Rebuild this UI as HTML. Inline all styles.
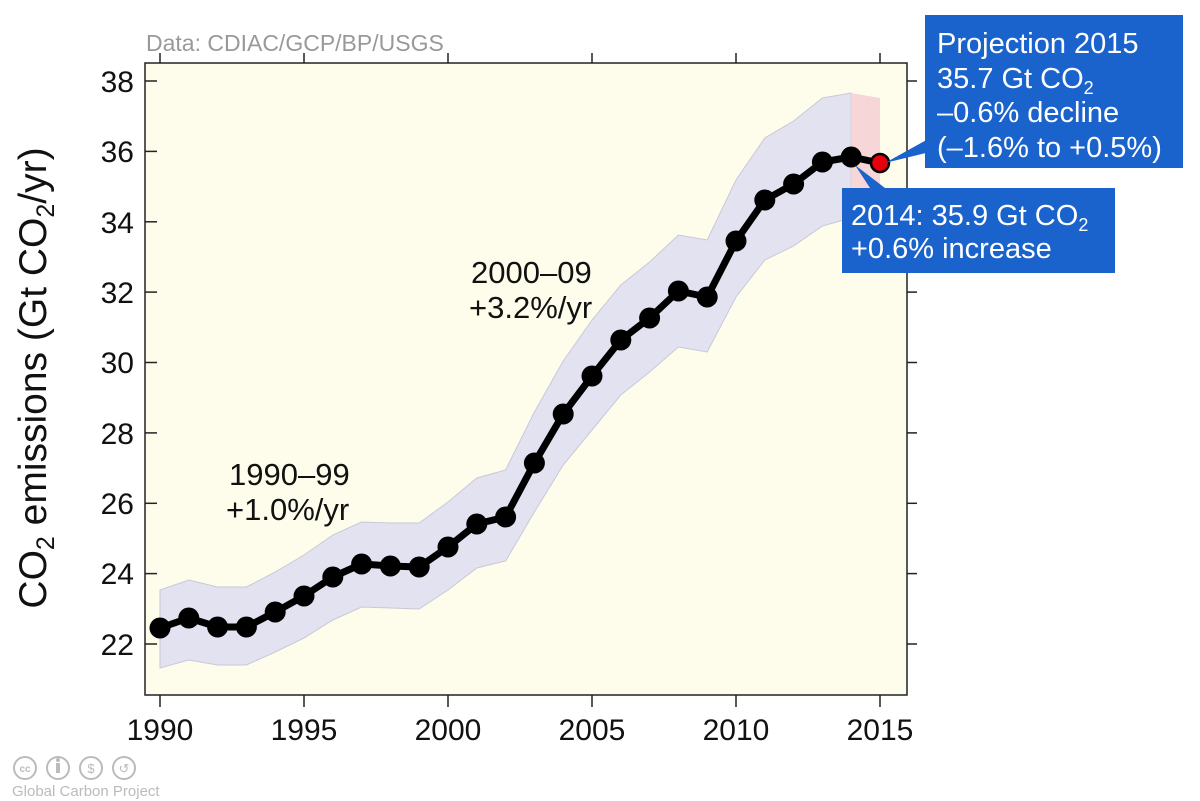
<!DOCTYPE html>
<html><head><meta charset="utf-8"><style>
html,body{margin:0;padding:0;background:#fff;}
svg{display:block;font-family:"Liberation Sans",Arial,sans-serif;}
</style></head><body>
<svg width="1200" height="801" viewBox="0 0 1200 801">
<rect x="145" y="63" width="762" height="632" fill="#fefdec"/>
<polygon fill="#e2e2f0" stroke="#c8c8d8" stroke-width="1" points="160,590 188.8,580 217.6,587 246.4,587 275.2,572 304,555 332.8,535 361.6,522 390.4,523 419.2,523 448,502 476.8,478 505.6,470 534.4,412 563.2,361 592,320 620.8,285 649.6,262 678.4,235 707.2,240 736,180 764.8,138 793.6,121 822.4,98 851.2,93 851.2,218 822.4,226 793.6,246 764.8,260 736,297 707.2,352 678.4,347 649.6,372 620.8,395 592,430 563.2,465 534.4,512 505.6,561 476.8,568 448,590 419.2,609 390.4,608 361.6,607 332.8,620 304,638 275.2,652 246.4,665 217.6,665 188.8,660 160,668"/>
<polygon fill="#f7d6d8" points="851.2,93 880,98 880,224 851.2,218"/>
<rect x="145" y="63" width="762" height="632" fill="none" stroke="#222" stroke-width="1.5"/>
<g stroke="#222" stroke-width="1.5">
<line x1="160" y1="695" x2="160" y2="707"/><line x1="304" y1="695" x2="304" y2="707"/><line x1="448" y1="695" x2="448" y2="707"/><line x1="592" y1="695" x2="592" y2="707"/><line x1="736" y1="695" x2="736" y2="707"/><line x1="880" y1="695" x2="880" y2="707"/>
<line x1="160" y1="63" x2="160" y2="53"/><line x1="304" y1="63" x2="304" y2="53"/><line x1="448" y1="63" x2="448" y2="53"/><line x1="592" y1="63" x2="592" y2="53"/><line x1="736" y1="63" x2="736" y2="53"/><line x1="880" y1="63" x2="880" y2="53"/>
<line x1="145" y1="81" x2="157" y2="81"/><line x1="145" y1="151.4" x2="157" y2="151.4"/><line x1="145" y1="221.8" x2="157" y2="221.8"/><line x1="145" y1="292.1" x2="157" y2="292.1"/><line x1="145" y1="362.5" x2="157" y2="362.5"/><line x1="145" y1="432.9" x2="157" y2="432.9"/><line x1="145" y1="503.3" x2="157" y2="503.3"/><line x1="145" y1="573.6" x2="157" y2="573.6"/><line x1="145" y1="644" x2="157" y2="644"/>
<line x1="907" y1="81" x2="917" y2="81"/><line x1="907" y1="151.4" x2="917" y2="151.4"/><line x1="907" y1="221.8" x2="917" y2="221.8"/><line x1="907" y1="292.1" x2="917" y2="292.1"/><line x1="907" y1="362.5" x2="917" y2="362.5"/><line x1="907" y1="432.9" x2="917" y2="432.9"/><line x1="907" y1="503.3" x2="917" y2="503.3"/><line x1="907" y1="573.6" x2="917" y2="573.6"/><line x1="907" y1="644" x2="917" y2="644"/>
</g>
<polyline fill="none" stroke="#000" stroke-width="7" stroke-linejoin="round" points="160,628 188.8,618 217.6,627 246.4,627 275.2,612 304,596 332.8,577 361.6,564 390.4,566 419.2,567 448,547 476.8,524 505.6,517 534.4,463 563.2,414 592,376 620.8,340 649.6,318 678.4,291 707.2,297 736,241 764.8,200 793.6,184 822.4,162 851.2,157 880,163"/>
<g fill="#000">
<circle cx="160" cy="628" r="10.5"/><circle cx="188.8" cy="618" r="10.5"/><circle cx="217.6" cy="627" r="10.5"/><circle cx="246.4" cy="627" r="10.5"/><circle cx="275.2" cy="612" r="10.5"/><circle cx="304" cy="596" r="10.5"/><circle cx="332.8" cy="577" r="10.5"/><circle cx="361.6" cy="564" r="10.5"/><circle cx="390.4" cy="566" r="10.5"/><circle cx="419.2" cy="567" r="10.5"/><circle cx="448" cy="547" r="10.5"/><circle cx="476.8" cy="524" r="10.5"/><circle cx="505.6" cy="517" r="10.5"/><circle cx="534.4" cy="463" r="10.5"/><circle cx="563.2" cy="414" r="10.5"/><circle cx="592" cy="376" r="10.5"/><circle cx="620.8" cy="340" r="10.5"/><circle cx="649.6" cy="318" r="10.5"/><circle cx="678.4" cy="291" r="10.5"/><circle cx="707.2" cy="297" r="10.5"/><circle cx="736" cy="241" r="10.5"/><circle cx="764.8" cy="200" r="10.5"/><circle cx="793.6" cy="184" r="10.5"/><circle cx="822.4" cy="162" r="10.5"/><circle cx="851.2" cy="157" r="10.5"/>
</g>
<circle cx="880" cy="163" r="9" fill="#e8000c" stroke="#000" stroke-width="2.5"/>
<polygon fill="#1b63cc" points="885,163 930,138 930,152"/>
<polygon fill="#1b63cc" points="855,165 870,188 885,188"/>
<rect x="925" y="15" width="258" height="153" fill="#1b63cc"/>
<rect x="842" y="188" width="273" height="85" fill="#1b63cc"/>
<g fill="#fff" font-size="29">
<text x="937" y="53">Projection 2015</text>
<text x="937" y="88">35.7 Gt CO<tspan font-size="18" dy="6">2</tspan></text>
<text x="937" y="122">–0.6% decline</text>
<text x="937" y="157">(–1.6% to +0.5%)</text>
<text x="851" y="225">2014: 35.9 Gt CO<tspan font-size="18" dy="6">2</tspan></text>
<text x="851" y="258">+0.6% increase</text>
</g>
<g font-size="31" fill="#111">
<text x="471" y="283">2000–09</text>
<text x="469" y="318">+3.2%/yr</text>
<text x="229" y="485">1990–99</text>
<text x="226" y="520">+1.0%/yr</text>
</g>
<text x="146" y="51" font-size="23" fill="#999">Data: CDIAC/GCP/BP/USGS</text>
<g font-size="30" fill="#111" text-anchor="end">
<text x="134" y="92">38</text><text x="134" y="162">36</text><text x="134" y="233">34</text><text x="134" y="303">32</text><text x="134" y="373">30</text><text x="134" y="444">28</text><text x="134" y="514">26</text><text x="134" y="584">24</text><text x="134" y="655">22</text>
</g>
<g font-size="30" fill="#111" text-anchor="middle">
<text x="160" y="740">1990</text><text x="304" y="740">1995</text><text x="448" y="740">2000</text><text x="592" y="740">2005</text><text x="736" y="740">2010</text><text x="880" y="740">2015</text>
</g>
<text transform="translate(46,378) rotate(-90)" text-anchor="middle" font-size="39" fill="#111">CO<tspan font-size="25" dy="8">2</tspan><tspan dy="-8"> emissions (Gt CO</tspan><tspan font-size="25" dy="8">2</tspan><tspan dy="-8">/yr)</tspan></text>
<g fill="none" stroke="#bbb" stroke-width="2">
<circle cx="25" cy="768" r="11"/><circle cx="58" cy="768" r="11"/><circle cx="91" cy="768" r="11"/><circle cx="124" cy="768" r="11"/>
</g>
<text x="25" y="772" font-size="10" fill="#bbb" text-anchor="middle" font-weight="bold">cc</text>
<text x="91" y="773" font-size="13" fill="#bbb" text-anchor="middle">$</text>
<text x="124" y="773" font-size="13" fill="#bbb" text-anchor="middle">↺</text>
<rect x="56" y="763" width="4" height="10" fill="#bbb"/><circle cx="58" cy="760" r="2" fill="#bbb"/>
<text x="12" y="796" font-size="15" fill="#bbb">Global Carbon Project</text>
</svg>
</body></html>
